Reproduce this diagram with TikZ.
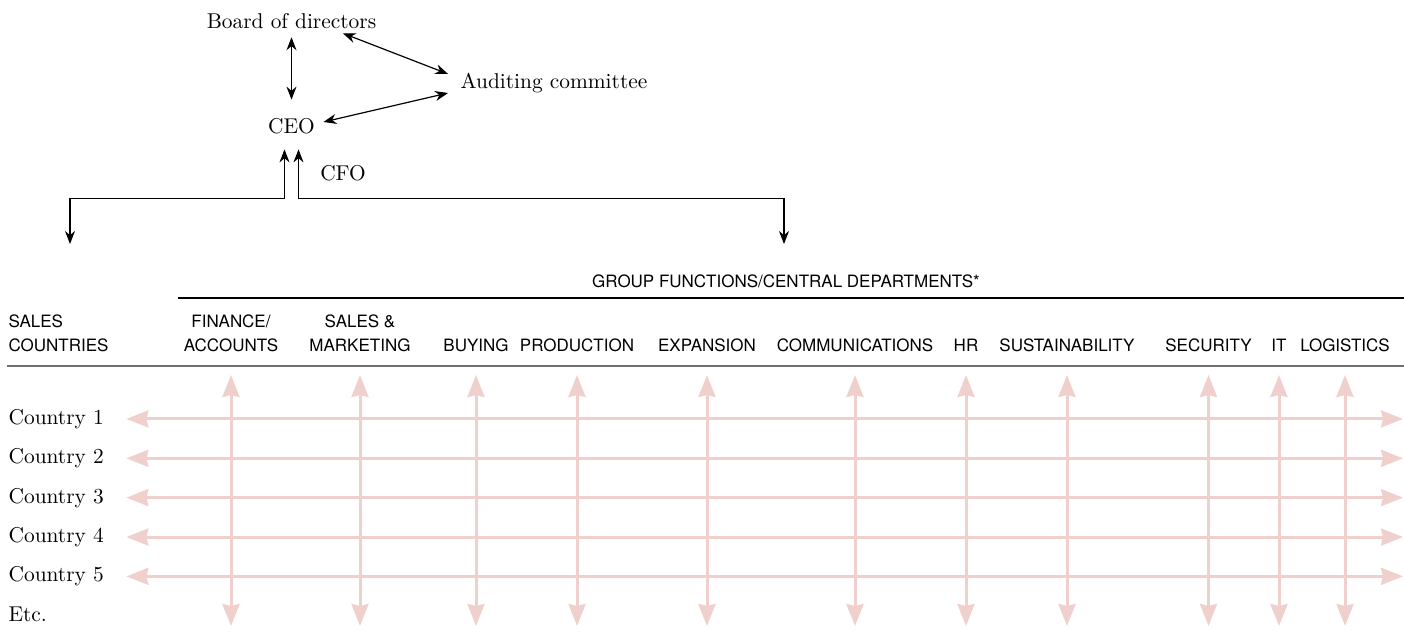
\documentclass[tikz,border=0pt]{standalone}
\usepackage{fontspec}
\newfontfamily\headfont{TeX Gyre Heros}
\usetikzlibrary{arrows.meta}
\definecolor{linkpink}{HTML}{F0D0CC}
\definecolor{rulegray}{HTML}{707070}

\begin{document}
\begin{tikzpicture}[x=0.5pt,y=-0.5pt,>={Stealth[length=6.5pt,width=5pt]},
  line width=0.6pt,
  org node/.style={inner sep=0pt,font=\fontsize{10.7}{13}\selectfont},
  dept node/.style={inner sep=0pt,align=center,anchor=south,text depth=0pt,
    font=\headfont\fontsize{8.5}{12}\selectfont},
  link/.style={linkpink,line width=1.5pt,
    {Stealth[length=11pt,width=8.5pt,inset=1pt]}-{Stealth[length=11pt,width=8.5pt,inset=1pt]}}]
  \useasboundingbox (0,0) rectangle (1404,642);
  \node[org node] (board) at (291.5,21) {Board of directors};
  \node[org node] (audit) at (554,83) {Auditing committee};
  \node[org node] (ceo) at (291.5,126) {CEO};
  \node[org node] (cfo) at (343,173) {CFO};
  \coordinate (salesdrop) at (70,244);
  \coordinate (groupdrop) at (784,244);
  \draw[<->,shorten <=4pt,shorten >=9pt] (board) -- (ceo);
  \draw[<->] ([shift={(-34,4)}]board.south east) -- ([shift={(-12,-9)}]audit.west);
  \draw[<->] ([shift={(8,-4)}]ceo.east) -- ([shift={(-12,10)}]audit.west);
  \draw[<->] ([shift={(-7,15)}]ceo.south) -- ++(0,49) -| (salesdrop);
  \draw[<->] ([shift={(7,15)}]ceo.south) -- ++(0,49) -| (groupdrop);
  \node[dept node,anchor=center] (group) at (786,281) {GROUP FUNCTIONS/CENTRAL DEPARTMENTS*};
  \draw (178,298) -- (1404,298);
  \node[dept node,anchor=south west,align=left] (sales) at (8,352) {SALES\\COUNTRIES};
  \draw[rulegray,line width=1pt] (7,366) -- (1404,366);
  \foreach \i/\y in {1/417.3,2/456.7,3/496,4/535.4,5/574.7}
    \node[org node,anchor=base west] (c\i) at (8,\y+7) {Country \i};
  \node[org node,anchor=base west] (etc) at (8,621.7) {Etc.};
  \coordinate (rightedge) at (1403,0);
  \foreach \i in {1,...,5}
    \draw[link] ([xshift=11pt]c\i.east) -- (c\i.east -| rightedge);
  \foreach \name/\x/\txt in {fin/231/{FINANCE/\\ACCOUNTS},mkt/360/{SALES \&\\MARKETING},
      buy/476/BUYING,prod/577/PRODUCTION,exp/707/EXPANSION,comm/855/COMMUNICATIONS,
      hr/966/HR,sust/1067/SUSTAINABILITY,sec/1208.5/SECURITY,it/1279/IT,log/1345/LOGISTICS}{
    \node[dept node] (\name) at (\x,352) {\txt};
    \coordinate (\name-end) at (\x,626);
    \draw[link] ([yshift=-11.5pt]\name.south) -- (\name-end);
  }
\end{tikzpicture}
\end{document}
